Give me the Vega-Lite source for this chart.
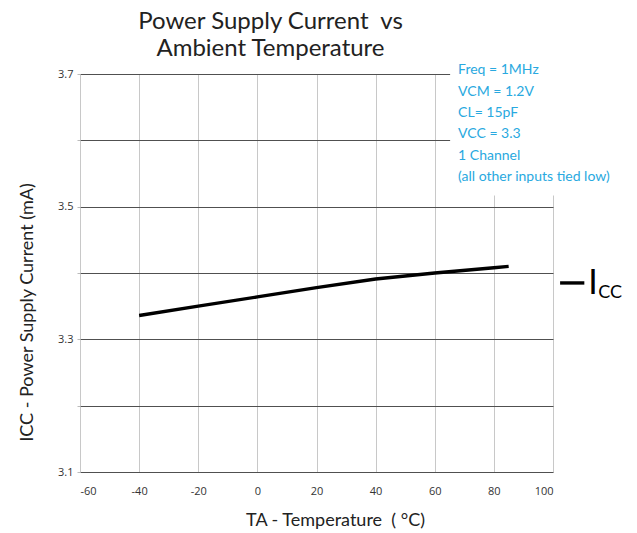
{
  "$schema": "https://vega.github.io/schema/vega-lite/v6.json",
  "width": 473,
  "height": 398,
  "autosize": {"type": "none"},
  "padding": {"left": 80, "top": 74, "right": 84, "bottom": 61},
  "background": "white",
  "title": {
    "text": ["Power Supply Current \u00a0vs", "Ambient Temperature"],
    "font": "Lato",
    "fontSize": 24,
    "fontWeight": "normal",
    "color": "#222222",
    "anchor": "middle",
    "dx": -46,
    "lineHeight": 27,
    "offset": -4
  },
  "config": {"view": {"stroke": null}},
  "datasets": {
    "icc": [
      {"temp": -40, "icc": 3.336},
      {"temp": -20, "icc": 3.350},
      {"temp": 0, "icc": 3.364},
      {"temp": 20, "icc": 3.378},
      {"temp": 40, "icc": 3.391},
      {"temp": 60, "icc": 3.400},
      {"temp": 80, "icc": 3.408},
      {"temp": 85, "icc": 3.410}
    ]
  },
  "layer": [
    {
      "data": {"name": "icc"},
      "mark": {"type": "line", "color": "black", "strokeWidth": 3.4},
      "encoding": {
        "x": {
          "field": "temp",
          "type": "quantitative",
          "scale": {"domain": [-60, 100], "nice": false, "zero": false},
          "axis": {
            "values": [-60, -40, -20, 0, 20, 40, 60, 80, 100],
            "labelExpr": "replace(datum.label, '\u2212', '-')",
            "grid": true,
            "gridColor": "#c8c8c8",
            "gridWidth": 1,
            "domain": false,
            "ticks": false,
            "labelPadding": 13,
            "labelFont": "Open Sans",
            "labelFontSize": 11,
            "labelColor": "#333333",
            "title": "TA - Temperature \u00a0( °C)",
            "titleFont": "Lato",
            "titleFontSize": 18,
            "titleFontWeight": "normal",
            "titleColor": "#222222",
            "titleAlign": "center",
            "titleBaseline": "alphabetic",
            "titleX": 255,
            "titleY": 53
          }
        },
        "y": {
          "field": "icc",
          "type": "quantitative",
          "scale": {"domain": [3.1, 3.7], "nice": false, "zero": false},
          "axis": {
            "values": [3.1, 3.2, 3.3, 3.4, 3.5, 3.6, 3.7],
            "format": ".1f",
            "labelExpr": "(datum.label == '3.1' || datum.label == '3.3' || datum.label == '3.5' || datum.label == '3.7') ? datum.label : ''",
            "grid": true,
            "gridColor": "#505050",
            "gridWidth": 1.2,
            "domain": false,
            "ticks": true,
            "tickColor": "#bbbbbb",
            "tickSize": 3,
            "labelPadding": 4,
            "labelFont": "Open Sans",
            "labelFontSize": 11,
            "labelColor": "#333333",
            "title": "ICC - Power Supply Current (mA)",
            "titleFont": "Lato",
            "titleFontSize": 18,
            "titleFontWeight": "normal",
            "titleColor": "#222222",
            "titleAngle": 270,
            "titleAlign": "center",
            "titleBaseline": "middle",
            "titleX": -53,
            "titleY": 238
          }
        }
      }
    },
    {
      "data": {"values": [{}]},
      "mark": {"type": "rect", "fill": "white"},
      "encoding": {
        "x": {"datum": 65.2, "type": "quantitative"},
        "x2": {"datum": 106},
        "y": {"datum": 3.517, "type": "quantitative"},
        "y2": {"datum": 3.725}
      }
    },
    {
      "data": {"values": [{}]},
      "mark": {
        "type": "text",
        "text": ["Freq = 1MHz", "VCM = 1.2V", "CL= 15pF", "VCC = 3.3", "1 Channel", "(all other inputs tied low)"],
        "align": "left",
        "baseline": "top",
        "font": "Lato",
        "fontSize": 14,
        "lineHeight": 21.3,
        "color": "#29a9e0"
      },
      "encoding": {
        "x": {"datum": 67.9, "type": "quantitative"},
        "y": {"datum": 3.716, "type": "quantitative"}
      }
    },
    {
      "data": {"values": [{}]},
      "mark": {"type": "rule", "color": "black", "strokeWidth": 3.4},
      "encoding": {
        "x": {"datum": 102.4, "type": "quantitative"},
        "x2": {"datum": 110.6},
        "y": {"datum": 3.385, "type": "quantitative"}
      }
    },
    {
      "data": {"values": [{}]},
      "mark": {"type": "text", "text": "I", "align": "left", "baseline": "alphabetic", "font": "Lato", "fontSize": 34, "color": "black"},
      "encoding": {
        "x": {"datum": 111.9, "type": "quantitative"},
        "y": {"datum": 3.3686, "type": "quantitative"}
      }
    },
    {
      "data": {"values": [{}]},
      "mark": {"type": "text", "text": "CC", "align": "left", "baseline": "alphabetic", "font": "Lato", "fontSize": 18, "color": "black"},
      "encoding": {
        "x": {"datum": 115.3, "type": "quantitative"},
        "y": {"datum": 3.3621, "type": "quantitative"}
      }
    }
  ]
}
